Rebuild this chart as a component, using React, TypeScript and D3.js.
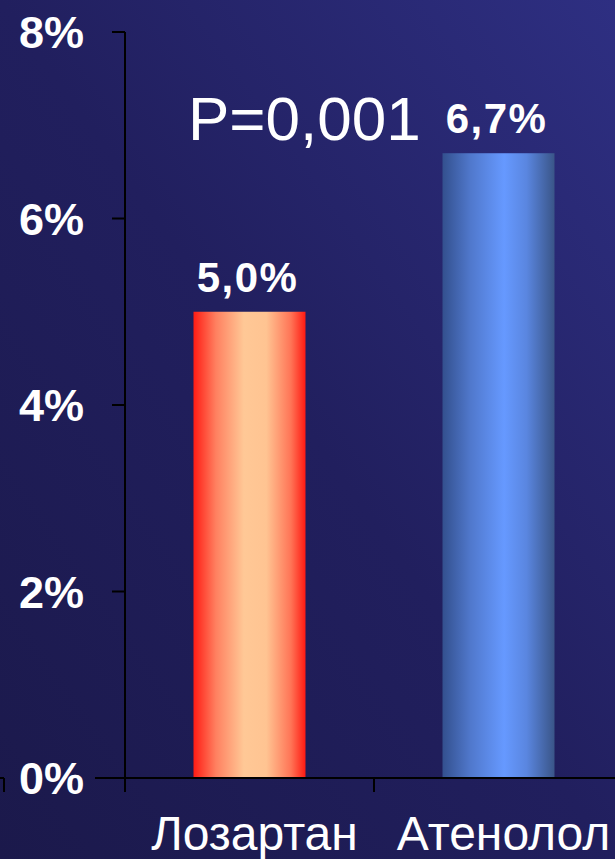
import React from "react";
import * as d3 from "d3";

const categories = ["Лозартан", "Атенолол"];
const values = [5.0, 6.7];
const valueLabels = ["5,0%", "6,7%"];
const yTicks = [0, 2, 4, 6, 8];
const pLabel = "P=0,001";

const W = 615;
const H = 859;

export default function App() {
  const x = d3.scaleBand<string>().domain([...categories, ""]).range([125, 872]).paddingInner(0).paddingOuter(0);
  const y = d3.scaleLinear().domain([0, 8]).range([778, 32]);
  const barW = 112;
  const gradIds = ["gradRed", "gradBlue"];

  return (
    <div style={{ position: "fixed", left: 0, top: 0, width: W, height: H }}>
      <svg width={W} height={H} style={{ display: "block" }} fontFamily="'Liberation Sans', Arial, sans-serif">
        <defs>
          <linearGradient id="bg" x1="0" y1="1" x2="1" y2="0">
            <stop offset="0%" stopColor="#1b194b" />
            <stop offset="50%" stopColor="#211f5e" />
            <stop offset="100%" stopColor="#2e2f82" />
          </linearGradient>
          <linearGradient id="gradRed" x1="0" y1="0" x2="1" y2="0">
            <stop offset="0%" stopColor="#ff1c14" />
            <stop offset="20%" stopColor="#ff8060" />
            <stop offset="45%" stopColor="#ffc896" />
            <stop offset="65%" stopColor="#ffc492" />
            <stop offset="87%" stopColor="#ff7456" />
            <stop offset="100%" stopColor="#ff1a12" />
          </linearGradient>
          <linearGradient id="gradBlue" x1="0" y1="0" x2="1" y2="0">
            <stop offset="0%" stopColor="#33508e" />
            <stop offset="25%" stopColor="#5078cc" />
            <stop offset="55%" stopColor="#6699ff" />
            <stop offset="75%" stopColor="#5a86e0" />
            <stop offset="100%" stopColor="#3a5588" />
          </linearGradient>
        </defs>
        <rect x={0} y={0} width={W} height={H} fill="url(#bg)" />

        {/* y axis */}
        <line x1={125} x2={125} y1={y(8)} y2={y(0)} stroke="#000" strokeWidth={2} />
        {yTicks.map((t) => (
          <g key={t}>
            <line x1={112} x2={125} y1={y(t)} y2={y(t)} stroke="#000" strokeWidth={2} />
            <text x={84} y={y(t)} dy="0.36em" textAnchor="end" fill="#fff" fontWeight="bold" fontSize={45}>
              {t}%
            </text>
          </g>
        ))}

        {/* bars */}
        {categories.map((c, i) => {
          const cx = (x(c) as number) + x.bandwidth() / 2;
          return (
            <g key={c}>
              <rect x={cx - barW / 2} y={y(values[i])} width={barW} height={y(0) - y(values[i])} fill={`url(#${gradIds[i]})`} />
              <text x={cx - 2} y={y(values[i]) - 20} textAnchor="middle" fill="#fff" fontWeight="bold" fontSize={42} letterSpacing={1.5}>
                {valueLabels[i]}
              </text>
              <text x={cx + 5} y={850} textAnchor="middle" fill="#fff" fontSize={48}>
                {c}
              </text>
            </g>
          );
        })}

        {/* x axis */}
        <line x1={95} x2={W} y1={y(0)} y2={y(0)} stroke="#000" strokeWidth={2} />
        {[...categories, ""].map((c) => (
          <line key={"t" + c} x1={x(c)} x2={x(c)} y1={y(0)} y2={y(0) + 14} stroke="#000" strokeWidth={2} />
        ))}
        <line x1={0} x2={4} y1={y(0)} y2={y(0)} stroke="#000" strokeWidth={2} />
        <line x1={4} x2={4} y1={y(0)} y2={y(0) + 14} stroke="#000" strokeWidth={2} />

        <text x={188} y={140} fill="#fff" fontSize={62}>
          {pLabel}
        </text>
      </svg>
    </div>
  );
}
